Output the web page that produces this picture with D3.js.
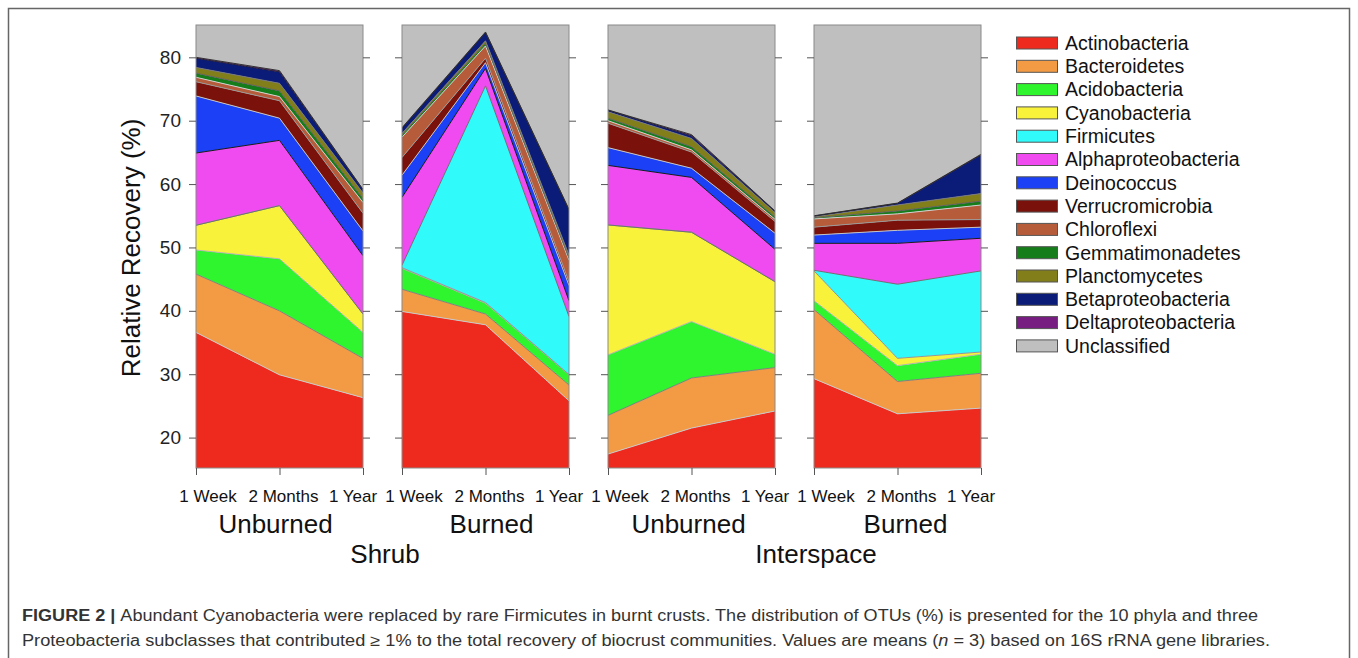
<!DOCTYPE html>
<html>
<head>
<meta charset="utf-8">
<script src="https://cdn.jsdelivr.net/npm/d3@7"></script>
<style>
  html, body { margin: 0; padding: 0; background: #fff; }
  svg { display: block; font-family: "Liberation Sans", Arial, Helvetica, sans-serif; }
</style>
</head>
<body>
<svg id="chart" width="1358" height="658"></svg>
<script>
// ---- data -------------------------------------------------------------
const phyla = [
  "Actinobacteria", "Bacteroidetes", "Acidobacteria", "Cyanobacteria",
  "Firmicutes", "Alphaproteobacteria", "Deinococcus", "Verrucromicrobia",
  "Chloroflexi", "Gemmatimonadetes", "Planctomycetes", "Betaproteobacteria",
  "Deltaproteobacteria", "Unclassified"
];
const phylumColors = [
  "#ee2a1f", "#f39a45", "#2ef52d", "#f8f23a", "#30fafa", "#ef4bf0", "#1b40f5",
  "#7a110b", "#b75c3a", "#157d1a", "#827f1a", "#0b1b78", "#771c80", "#bfbfbf"
];
// colour of the outline drawn along the top of each layer
const edgeColors = [
  "#c8c8c8", "#808080", "#b4b4b4", "#969696", "#707070", "#1a1a1a", "#c4c4c4",
  "#9a9a9a", "#d0d0d0", "#606060", "#7a7a7a", "#20203a", "#303030"
];

const sites = ["Shrub", "Interspace"];
const treatments = ["Unburned", "Burned"];
const times = ["1 Week", "2 Months", "1 Year"];
const yTicks = [20, 30, 40, 50, 60, 70, 80];

// Relative recovery (%), samples ordered:
// Shrub Unburned (1W, 2M, 1Y), Shrub Burned, Interspace Unburned, Interspace Burned
const actinobacteria      = [36.6, 29.9, 26.3, 39.9, 37.8, 25.8, 17.4, 21.5, 24.2, 29.3, 23.75, 24.65];
const bacteroidetes       = [9.2, 10.1, 6.2, 3.5, 1.7, 2.5, 6.1, 7.9, 6.85, 10.9, 5.1, 5.5];
const acidobacteria       = [3.8, 8.2, 4.1, 3.3, 1.7, 1.6, 9.55, 8.9, 2.1, 1.4, 2.5, 3.0];
const cyanobacteria       = [3.9, 8.4, 2.9, 0.1, 0.1, 0.05, 20.5, 14.1, 11.45, 4.7, 1.15, 0.35];
const firmicutes          = [0, 0, 0, 0.4, 34.2, 9.15, 0, 0, 0, 0.1, 11.7, 12.8];
const alphaproteobacteria = [11.4, 10.3, 9.2, 10.7, 2.75, 2.5, 9.4, 8.65, 5.1, 4.25, 6.45, 5.15];
const deinococcus         = [9.0, 3.5, 3.9, 3.5, 0.9, 2.4, 2.8, 1.45, 2.55, 1.3, 2.05, 1.75];
const verrucromicrobia    = [2.25, 2.75, 2.8, 2.8, 0.7, 0.6, 3.85, 2.55, 1.85, 1.25, 1.6, 1.2];
const chloroflexi         = [0.7, 0.65, 1.7, 3.2, 1.95, 3.4, 0.4, 0.35, 0.35, 1.3, 1.0, 2.3];
const gemmatimonadetes    = [0.65, 0.9, 0.6, 0.35, 0.4, 0.3, 0.4, 0.5, 0.35, 0.2, 0.45, 0.6];
const planctomycetes      = [0.9, 1.2, 0.9, 0.25, 0.4, 0.5, 1.0, 1.3, 0.7, 0.15, 0.95, 1.2];
const betaproteobacteria  = [1.45, 1.8, 0.5, 0.8, 1.3, 7.1, 0.25, 0.4, 0.2, 0.1, 0.25, 6.1];
const deltaproteobacteria = [0.15, 0.2, 0.05, 0.1, 0.1, 0.1, 0.05, 0.2, 0.05, 0.05, 0.05, 0.1];
const unclassified        = [20.0, 22.1, 40.85, 31.1, 16.0, 44.0, 28.3, 32.2, 44.25, 45.0, 43.0, 35.3];

const seriesValues = [
  actinobacteria, bacteroidetes, acidobacteria, cyanobacteria, firmicutes,
  alphaproteobacteria, deinococcus, verrucromicrobia, chloroflexi,
  gemmatimonadetes, planctomycetes, betaproteobacteria, deltaproteobacteria,
  unclassified
];

// ---- layout -----------------------------------------------------------
const svg = d3.select("#chart");
const panelLeft0 = 196, panelStep = 206, panelW = 167;
const plotTop = 25, plotBottom = 468;
const tickLen = 7;
const axisColor = "#555";

const y = d3.scaleLinear().domain([15.2, 85.1]).range([plotBottom, plotTop]);
const x = d3.scalePoint().domain(times).range([0, panelW]).padding(0);

// outer frame of the figure
svg.append("rect")
  .attr("x", 8.5).attr("y", 8.5)
  .attr("width", 1341).attr("height", 720)
  .attr("fill", "none").attr("stroke", "#666").attr("stroke-width", 1.5);

const panels = [];
sites.forEach((site, si) => treatments.forEach((tr, ti) => panels.push({ site, tr, idx: si * 2 + ti })));

const stack = d3.stack().keys(phyla);
const area = d3.area()
  .x(d => x(d.data.time))
  .y0(d => y(d[0]))
  .y1(d => y(d[1]));
const topLine = d3.line()
  .x(d => x(d.data.time))
  .y(d => y(d[1]));

const defs = svg.append("defs");

panels.forEach(p => {
  const left = panelLeft0 + p.idx * panelStep;
  const rows = times.map((t, k) => {
    const row = { time: t };
    phyla.forEach((name, j) => { row[name] = seriesValues[j][p.idx * 3 + k]; });
    return row;
  });
  const layers = stack(rows);

  const clipId = "clip" + p.idx;
  defs.append("clipPath").attr("id", clipId)
    .append("rect").attr("x", 0).attr("y", plotTop)
    .attr("width", panelW).attr("height", plotBottom - plotTop);

  const g = svg.append("g").attr("transform", `translate(${left},0)`);
  const plot = g.append("g").attr("clip-path", `url(#${clipId})`);

  plot.selectAll("path.layer")
    .data(layers)
    .join("path")
    .attr("class", "layer")
    .attr("fill", (d, i) => phylumColors[i])
    .attr("d", area);

  plot.selectAll("path.edge")
    .data(layers.slice(0, layers.length - 1))
    .join("path")
    .attr("class", "edge")
    .attr("fill", "none")
    .attr("stroke", (d, i) => edgeColors[i])
    .attr("stroke-width", 1)
    .attr("d", topLine);

  // panel box
  g.append("rect")
    .attr("x", 0).attr("y", plotTop)
    .attr("width", panelW).attr("height", plotBottom - plotTop)
    .attr("fill", "none").attr("stroke", "#8a8a8a").attr("stroke-width", 1);

  // y ticks on both sides, pointing outward
  const yAxisL = d3.axisLeft(y).tickValues(yTicks).tickSize(tickLen)
    .tickFormat(p.idx === 0 ? d3.format("d") : () => "");
  const yAxisR = d3.axisRight(y).tickValues(yTicks).tickSize(tickLen).tickFormat(() => "");
  const axL = g.append("g").call(yAxisL);
  const axR = g.append("g").attr("transform", `translate(${panelW},0)`).call(yAxisR);
  [axL, axR].forEach(ax => {
    ax.select(".domain").remove();
    ax.selectAll("line").attr("stroke", axisColor);
  });
  axL.selectAll("text")
    .attr("x", -15)
    .attr("fill", "#222")
    .style("font-size", "19px")
    .style("font-family", "'Liberation Sans', Arial, sans-serif");

  // x ticks
  const xAxis = d3.axisBottom(x).tickSize(tickLen).tickFormat(() => "");
  const axX = g.append("g").attr("transform", `translate(0,${plotBottom})`).call(xAxis);
  axX.select(".domain").remove();
  axX.selectAll("line").attr("stroke", axisColor);

  // time labels (nudged so neighbouring panels do not collide)
  const labelShift = [12, 4, -10];
  g.selectAll("text.time")
    .data(times)
    .join("text")
    .attr("class", "time")
    .attr("x", (d, i) => x(d) + labelShift[i])
    .attr("y", 502)
    .attr("text-anchor", "middle")
    .attr("fill", "#111")
    .style("font-size", "17px")
    .text(d => d);

  // treatment label
  g.append("text")
    .attr("x", panelW / 2 + [-4, 6, -3, 8][p.idx])
    .attr("y", 533)
    .attr("text-anchor", "middle")
    .attr("fill", "#111")
    .style("font-size", "26px")
    .text(p.tr);
});

// site labels
const siteCenters = [385, 816];
svg.selectAll("text.site")
  .data(sites)
  .join("text")
  .attr("class", "site")
  .attr("x", (d, i) => siteCenters[i])
  .attr("y", 563)
  .attr("text-anchor", "middle")
  .attr("fill", "#111")
  .style("font-size", "26px")
  .text(d => d);

// y axis title
svg.append("text")
  .attr("transform", "translate(131,248) rotate(-90)")
  .attr("text-anchor", "middle")
  .attr("dy", "0.35em")
  .attr("fill", "#111")
  .style("font-size", "26px")
  .text("Relative Recovery (%)");

// legend
const legend = svg.append("g").attr("transform", "translate(1016,43)");
const rowH = 23.3;
const item = legend.selectAll("g.item")
  .data(phyla)
  .join("g")
  .attr("class", "item")
  .attr("transform", (d, i) => `translate(0,${i * rowH})`);
item.append("rect")
  .attr("x", 0.5).attr("y", -6)
  .attr("width", 41).attr("height", 12)
  .attr("fill", (d, i) => phylumColors[i])
  .attr("stroke", "#555").attr("stroke-width", 1);
item.append("text")
  .attr("x", 49)
  .attr("dy", "0.35em")
  .attr("fill", "#111")
  .style("font-size", "19.5px")
  .text(d => d);

// caption
const cap1 = svg.append("text")
  .attr("x", 22).attr("y", 621)
  .attr("fill", "#333")
  .style("font-size", "16px")
  .attr("textLength", 1236).attr("lengthAdjust", "spacingAndGlyphs");
cap1.append("tspan").style("font-weight", "bold").text("FIGURE 2 | ");
cap1.append("tspan").text("Abundant Cyanobacteria were replaced by rare Firmicutes in burnt crusts. The distribution of OTUs (%) is presented for the 10 phyla and three");

const cap2 = svg.append("text")
  .attr("x", 22).attr("y", 646)
  .attr("fill", "#333")
  .style("font-size", "16px")
  .attr("textLength", 1248).attr("lengthAdjust", "spacingAndGlyphs");
cap2.append("tspan").text("Proteobacteria subclasses that contributed ≥ 1% to the total recovery of biocrust communities. Values are means (");
cap2.append("tspan").style("font-style", "italic").text("n");
cap2.append("tspan").text(" = 3) based on 16S rRNA gene libraries.");
</script>
</body>
</html>
